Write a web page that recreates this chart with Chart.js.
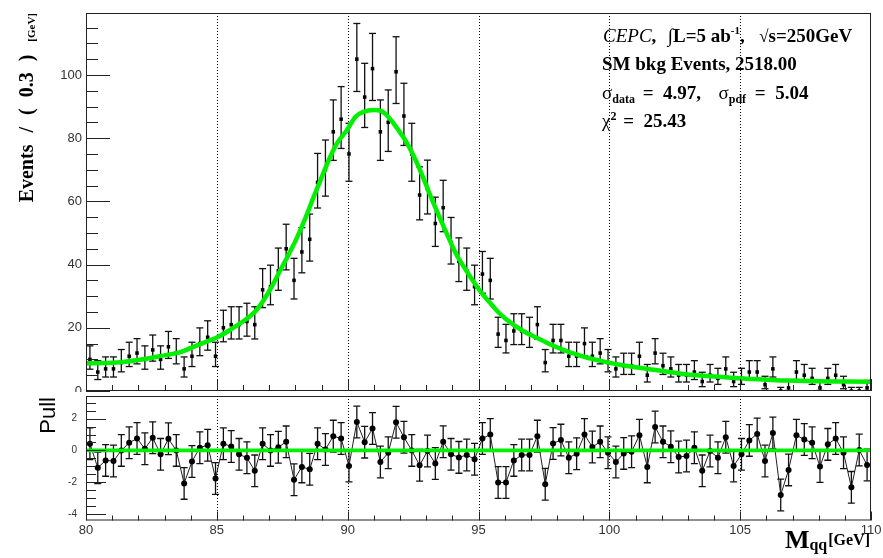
<!DOCTYPE html>
<html>
<head>
<meta charset="utf-8">
<script src="https://cdn.jsdelivr.net/npm/chart.js@4.4.1/dist/chart.umd.min.js"></script>
<style>
  html, body { margin: 0; padding: 0; background: #fff; }
  #wrap { position: relative; width: 883px; height: 558px; overflow: hidden; background: #fff; }
  canvas { position: absolute; left: 0; display: block; }
  #mainPad { top: 0; }
  #pullPad { top: 392px; }
</style>
</head>
<body>
<div id="wrap">
  <canvas id="mainPad" width="883" height="395"></canvas>
  <canvas id="pullPad" width="883" height="166"></canvas>
</div>
<script>
// Di-jet invariant mass, SM background, 0.3 GeV bins between 80 and 110 GeV
const massMin = 80;
const massMax = 110;
const binWidth = 0.3;

// events per bin
const events = [
  10, 6, 7, 7, 9, 11, 12, 10, 13, 10,
  14, 12, 7, 11, 15, 17, 11, 20, 21, 21,
  22, 21, 32, 33, 38, 45, 35, 44, 48, 66,
  70, 82, 86, 75, 105, 93, 102, 82, 85, 101,
  87, 75, 62, 64, 53, 58, 47, 41, 38, 33,
  37, 35, 18, 16, 19, 19, 18, 21, 9, 16,
  16, 11, 11, 15, 11, 12, 9, 7, 8, 8,
  11, 5, 12, 8, 7, 5, 5, 6, 3, 5,
  4, 7, 3, 4, 6, 6, 2, 7, 0, 1,
  6, 5, 4, 1, 4, 5, 2, 0, 0, 1
];

// pull of each bin with respect to the fitted pdf
const pulls = [
  0.42, -1.10, -0.63, -0.67, 0.00, 0.48, 0.75, 0.10, 0.80, -0.25,
  0.73, 0.00, -2.08, -0.70, 0.17, 0.33, -1.77, 0.42, 0.25, -0.25,
  -0.46, -1.29, 0.42, 0.00, 0.20, 0.54, -1.85, -1.04, -1.19, 0.42,
  0.06, 0.90, 0.75, -0.98, 1.79, 0.52, 1.38, -0.73, -0.15, 1.77,
  0.83, 0.00, -0.94, -0.04, -0.83, 0.55, -0.25, -0.44, -0.29, -0.56,
  0.75, 1.00, -2.02, -2.02, -0.63, -0.29, -0.29, 0.90, -2.13, 0.44,
  0.65, -0.46, -0.21, 1.00, 0.21, 0.54, -0.15, -0.73, -0.19, -0.08,
  0.96, -1.04, 1.48, 0.54, 0.23, -0.42, -0.35, 0.17, -1.29, -0.04,
  -0.46, 0.83, -0.98, -0.25, 0.63, 1.04, -0.67, 1.10, -2.81, -1.23,
  0.96, 0.69, 0.48, -1.02, 0.38, 0.75, -0.15, -2.33, 0.02, -0.92
];

// fitted pdf, sampled along the mass axis
const fitMass = [
  80.0, 81.0, 82.0, 82.8, 83.6, 84.2, 84.6, 85.0, 85.5, 86.1,
  86.5, 86.8, 87.1, 87.4, 87.7, 88.05, 88.4, 88.7, 89.0, 89.3,
  89.6, 89.96, 90.3, 90.6, 91.0, 91.3, 91.62, 91.9, 92.25, 92.6,
  92.9, 93.2, 93.53, 93.85, 94.16, 94.5, 94.8, 95.1, 95.44, 95.75,
  96.07, 96.4, 96.71, 97.0, 97.34, 97.86, 98.5, 99.13, 99.8, 100.4,
  101.0, 101.7, 102.3, 102.9, 103.5, 104.2, 104.8, 105.5, 106.2, 106.8,
  107.5, 108.0, 109.0, 110.0
];
const fitEvents = [
  8.8, 8.9, 9.8, 11.0, 12.3, 14.3, 15.6, 16.9, 19.3, 22.6,
  25.5, 28.9, 33.0, 37.8, 42.5, 48.3, 55.0, 61.4, 67.5, 73.5,
  78.5, 82.4, 86.8, 88.3, 88.9, 88.5, 86.1, 83.0, 78.7, 73.0,
  67.2, 61.0, 54.6, 48.6, 43.1, 38.5, 34.7, 31.2, 27.9, 25.0,
  22.6, 20.6, 19.0, 17.7, 16.4, 14.3, 12.2, 10.6, 9.3, 8.3,
  7.5, 6.7, 6.0, 5.3, 4.9, 4.5, 4.1, 3.8, 3.5, 3.3,
  3.2, 3.1, 3.0, 2.9
];

const massGrid = [85, 90, 95, 100, 105];

const infoLines = {
  lumi: ['CEPC', ',  ', '\u222B', 'L=5 ab', '-1', ',  ', '\u221A', 's=250GeV'],
  total: 'SM bkg Events, 2518.00',
  widths: ['\u03C3', 'data', ' =  4.97,  ', '\u03C3', 'pdf', ' =  5.04'],
  chi2: ['\u03C7', '2', ' =  25.43']
};

const binCenters = events.map((_, i) => +(massMin + (i + 0.5) * binWidth).toFixed(2));

const GREEN = '#00f000';
const SERIF = '"Liberation Serif", "DejaVu Serif", serif';
const SANS = '"Liberation Sans", Arial, sans-serif';

// 68% Poisson interval of a count (Gehrels approximation)
function poissonErrors(n) {
  if (n === 0) return [0, 1.148];
  const up = n + Math.sqrt(n + 0.75) + 1;
  const lo = n * Math.pow(1 - 1 / (9 * n) - 1 / (3 * Math.sqrt(n)), 3);
  return [n - lo, up - n];
}

function seg(ctx, x1, y1, x2, y2) {
  ctx.beginPath(); ctx.moveTo(x1, y1); ctx.lineTo(x2, y2); ctx.stroke();
}

function drawGrid(chart) {
  const { ctx, chartArea: a, scales: { x } } = chart;
  ctx.save();
  ctx.strokeStyle = '#000';
  ctx.lineWidth = 1;
  ctx.setLineDash([1, 2]);
  massGrid.forEach(v => {
    const px = Math.round(x.getPixelForValue(v)) + 0.5;
    seg(ctx, px, a.top, px, a.bottom);
  });
  ctx.restore();
}

function drawFrame(chart, spec) {
  const { ctx, chartArea: a, scales: { x, y } } = chart;
  ctx.save();
  ctx.strokeStyle = '#222';
  ctx.lineWidth = 1;
  for (let v = massMin; v <= massMax + 1e-9; v += 1) {
    const px = Math.round(x.getPixelForValue(v)) + 0.5;
    const len = (Math.round(v) % 5 === 0) ? spec.xMajor : spec.xMinor;
    seg(ctx, px, a.bottom, px, a.bottom - len);
  }
  const first = Math.ceil(y.min / spec.yMinorStep) * spec.yMinorStep;
  for (let v = first; v <= y.max + 1e-9; v += spec.yMinorStep) {
    const py = Math.round(y.getPixelForValue(v)) + 0.5;
    const isMajor = Math.abs(v / spec.yMajorStep - Math.round(v / spec.yMajorStep)) < 1e-6;
    seg(ctx, a.left, py, a.left + (isMajor ? spec.yMajor : spec.yMinor), py);
  }
  ctx.strokeRect(a.left + 0.5, a.top + 0.5, a.right - a.left - 1, a.bottom - a.top - 1);
  ctx.restore();
}

function runsWidth(ctx, runs) {
  let w = 0;
  runs.forEach(r => {
    if (r.gap) { w += r.gap; return; }
    ctx.font = r.font; w += ctx.measureText(r.t).width;
  });
  return w;
}

function drawRuns(ctx, runs, x, y) {
  let cx = x;
  runs.forEach(r => {
    if (r.gap) { cx += r.gap; return; }
    ctx.font = r.font;
    ctx.fillText(r.t, cx, y + (r.dy || 0));
    cx += ctx.measureText(r.t).width;
  });
  return cx;
}

// keep the plot frames exactly where the layout puts them
function fixWidth(w) {
  return s => { s.width = w; s.paddingTop = 0; s.paddingBottom = 0; };
}
function fixHeight(h) {
  return s => { s.height = h; s.paddingLeft = 0; s.paddingRight = 0; };
}

const mainDecor = {
  id: 'mainDecor',
  beforeDatasetsDraw(chart) {
    drawGrid(chart);
    const { ctx, chartArea: a, scales: { x, y } } = chart;
    ctx.save();
    ctx.beginPath();
    ctx.rect(a.left, a.top, a.right - a.left, a.bottom - a.top);
    ctx.clip();
    ctx.strokeStyle = '#111';
    ctx.lineWidth = 1.3;
    events.forEach((n, i) => {
      const [lo, hi] = poissonErrors(n);
      const px = x.getPixelForValue(binCenters[i]);
      const y1 = y.getPixelForValue(n - lo);
      const y2 = y.getPixelForValue(n + hi);
      seg(ctx, px, y1, px, y2);
      seg(ctx, px - 3.5, y1, px + 3.5, y1);
      seg(ctx, px - 3.5, y2, px + 3.5, y2);
    });
    ctx.restore();
  },
  afterDatasetsDraw(chart) {
    drawFrame(chart, { xMajor: 12, xMinor: 6, yMajorStep: 20, yMinorStep: 5, yMajor: 24, yMinor: 12 });
  },
  afterDraw(chart) {
    const { ctx } = chart;
    ctx.save();
    ctx.fillStyle = '#000';
    ctx.textBaseline = 'alphabetic';
    ctx.textAlign = 'left';

    // y axis title, read upwards and ending at the top of the frame
    const F = `bold 20px ${SERIF}`;
    const yTitle = [
      { t: 'Events', font: F }, { gap: 12 },
      { t: '/', font: F }, { gap: 12 },
      { t: '(', font: F }, { gap: 11 },
      { t: '0.3', font: F }, { gap: 11 },
      { t: ')', font: F }, { gap: 13 },
      { t: '[GeV]', font: `bold 11px ${SERIF}`, dy: 2 }
    ];
    const w = runsWidth(ctx, yTitle);
    ctx.save();
    ctx.translate(33, 13 + w);
    ctx.rotate(-Math.PI / 2);
    drawRuns(ctx, yTitle, 0, 0);
    ctx.restore();

    // fit summary
    const B = `bold 19px ${SERIF}`;
    const L = infoLines;
    drawRuns(ctx, [
      { t: L.lumi[0], font: `italic 19px ${SERIF}` },
      { t: L.lumi[1], font: B }, { gap: 2 },
      { t: L.lumi[2], font: `19px ${SERIF}` },
      { t: L.lumi[3], font: B },
      { t: L.lumi[4], font: `bold 11px ${SERIF}`, dy: -8 },
      { t: L.lumi[5], font: B }, { gap: 5 },
      { t: L.lumi[6], font: `17px ${SERIF}` },
      { t: L.lumi[7], font: B }
    ], 603, 42);
    drawRuns(ctx, [{ t: L.total, font: B }], 602, 70);
    drawRuns(ctx, [
      { t: L.widths[0], font: `19px ${SERIF}` },
      { t: L.widths[1], font: `bold 12px ${SERIF}`, dy: 4 }, { gap: 3 },
      { t: L.widths[2], font: B }, { gap: 8 },
      { t: L.widths[3], font: `19px ${SERIF}` },
      { t: L.widths[4], font: `bold 12px ${SERIF}`, dy: 4 }, { gap: 4 },
      { t: L.widths[5], font: B }
    ], 602, 99);
    drawRuns(ctx, [
      { t: L.chi2[0], font: `19px ${SERIF}` },
      { t: L.chi2[1], font: `bold 12px ${SERIF}`, dy: -7 }, { gap: 2 },
      { t: L.chi2[2], font: B }
    ], 602, 127);
    ctx.restore();
  }
};

const pullDecor = {
  id: 'pullDecor',
  beforeDraw(chart) {
    // the lower pad is opaque and sits over the bottom edge of the upper one
    const { ctx, width, height } = chart;
    ctx.save();
    ctx.fillStyle = '#fff';
    ctx.fillRect(0, 0, width, height);
    ctx.restore();
  },
  beforeDatasetsDraw(chart) {
    drawGrid(chart);
    const { ctx, chartArea: a, scales: { x, y } } = chart;
    ctx.save();
    ctx.beginPath();
    ctx.rect(a.left, a.top, a.right - a.left, a.bottom - a.top);
    ctx.clip();
    ctx.strokeStyle = '#111';
    ctx.lineWidth = 1.3;
    pulls.forEach((p, i) => {
      const px = x.getPixelForValue(binCenters[i]);
      const y1 = y.getPixelForValue(p - 1);
      const y2 = y.getPixelForValue(p + 1);
      seg(ctx, px, y1, px, y2);
      seg(ctx, px - 3.5, y1, px + 3.5, y1);
      seg(ctx, px - 3.5, y2, px + 3.5, y2);
    });
    ctx.restore();
  },
  afterDatasetsDraw(chart) {
    drawFrame(chart, { xMajor: 9, xMinor: 5, yMajorStep: 2, yMinorStep: 0.5, yMajor: 20, yMinor: 10 });
  },
  afterDraw(chart) {
    const { ctx, chartArea: a } = chart;
    ctx.save();
    ctx.fillStyle = '#000';
    ctx.textBaseline = 'alphabetic';
    // y axis title
    ctx.save();
    ctx.translate(55, a.top + 1);
    ctx.rotate(-Math.PI / 2);
    ctx.textAlign = 'right';
    ctx.font = `22px ${SANS}`;
    ctx.fillText('Pull', 0, 0);
    ctx.restore();
    // x axis title
    ctx.textAlign = 'left';
    const xTitle = [
      { t: 'M', font: `bold 26px ${SERIF}` },
      { t: 'qq', font: `bold 16px ${SERIF}`, dy: 2 }, { gap: 1 },
      { t: '[GeV]', font: `bold 16px ${SERIF}`, dy: -3 }
    ];
    const w = runsWidth(ctx, xTitle);
    drawRuns(ctx, xTitle, 870 - w, 156);
    ctx.restore();
  }
};

const xCommon = {
  type: 'linear', min: massMin, max: massMax,
  grid: { display: false, drawTicks: false },
  border: { display: false }
};

new Chart(document.getElementById('mainPad'), {
  type: 'scatter',
  data: {
    datasets: [
      {
        type: 'line', label: 'pdf',
        data: fitMass.map((m, i) => ({ x: m, y: fitEvents[i] })),
        borderColor: GREEN, borderWidth: 4.5, pointRadius: 0,
        cubicInterpolationMode: 'monotone', fill: false, order: 0
      },
      {
        type: 'scatter', label: 'data',
        data: binCenters.map((m, i) => ({ x: m, y: events[i] })),
        pointStyle: 'rect', pointRadius: 2.5, backgroundColor: '#000',
        borderWidth: 0, order: 1
      }
    ]
  },
  options: {
    responsive: false, animation: false, devicePixelRatio: 1,
    layout: { padding: { left: 0, right: 12, top: 13, bottom: 0 } },
    plugins: { legend: { display: false }, tooltip: { enabled: false } },
    scales: {
      x: Object.assign({}, xCommon, {
        ticks: { display: false },
        afterFit: fixHeight(1)
      }),
      y: {
        min: 0, max: 119.6,
        grid: { display: false, drawTicks: false },
        border: { display: false },
        ticks: { stepSize: 20, includeBounds: false, padding: 4, color: '#333', font: { family: SANS, size: 13 } },
        afterFit: fixWidth(86)
      }
    }
  },
  plugins: [mainDecor]
});

new Chart(document.getElementById('pullPad'), {
  type: 'scatter',
  data: {
    datasets: [
      {
        type: 'line', label: 'zero',
        data: [{ x: massMin, y: 0 }, { x: massMax, y: 0 }],
        borderColor: GREEN, borderWidth: 3.8, pointRadius: 0, order: 0
      },
      {
        type: 'line', label: 'pull',
        data: binCenters.map((m, i) => ({ x: m, y: pulls[i] })),
        borderColor: '#222', borderWidth: 1, tension: 0,
        pointStyle: 'circle', pointRadius: 3, pointBackgroundColor: '#000',
        pointBorderWidth: 0, order: 1
      }
    ]
  },
  options: {
    responsive: false, animation: false, devicePixelRatio: 1,
    layout: { padding: { left: 0, right: 12, top: 2, bottom: 0 } },
    plugins: { legend: { display: false }, tooltip: { enabled: false } },
    scales: {
      x: Object.assign({}, xCommon, {
        ticks: { stepSize: 5, padding: 2, color: '#333', font: { family: SANS, size: 13 } },
        afterFit: fixHeight(37.5)
      }),
      y: {
        min: -4.42, max: 3.43,
        grid: { display: false, drawTicks: false },
        border: { display: false },
        ticks: { stepSize: 2, includeBounds: false, padding: 9, color: '#333', font: { family: SANS, size: 10 } },
        afterFit: fixWidth(86)
      }
    }
  },
  plugins: [pullDecor]
});
</script>
</body>
</html>
